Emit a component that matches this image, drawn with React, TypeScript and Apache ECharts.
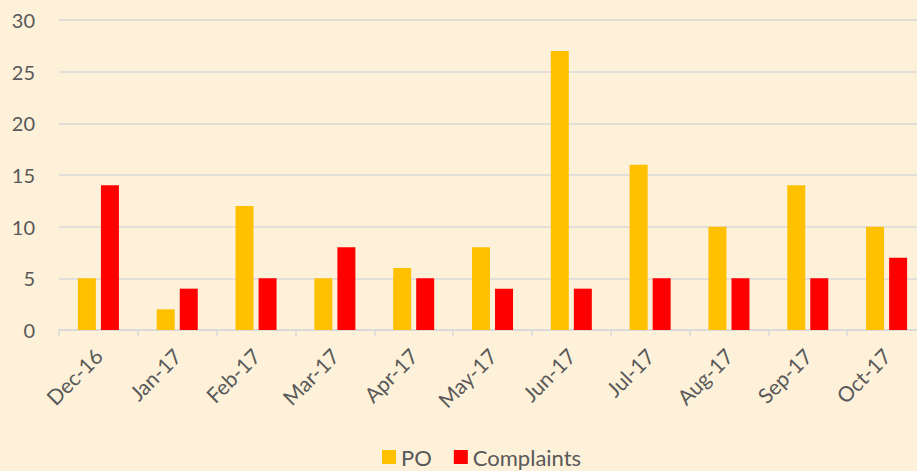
import React, { useEffect, useRef } from "react";
import * as echarts from "echarts";

const categories = ["Dec-16", "Jan-17", "Feb-17", "Mar-17", "Apr-17", "May-17", "Jun-17", "Jul-17", "Aug-17", "Sep-17", "Oct-17"];
const poValues = [5, 2, 12, 5, 6, 8, 27, 16, 10, 14, 10];
const complaintValues = [14, 4, 5, 8, 5, 4, 4, 5, 5, 5, 7];

const FONT = "Lato, 'Open Sans', sans-serif";

export default function App() {
  const ref = useRef<HTMLDivElement>(null);
  useEffect(() => {
    if (!ref.current) return;
    const chart = echarts.init(ref.current, undefined, { renderer: "svg" });
    chart.setOption({
      animation: false,
      backgroundColor: "#FDF1D9",
      textStyle: { fontFamily: FONT },
      grid: { left: 59, right: 0, top: 20, bottom: 141, containLabel: false },
      legend: {
        bottom: -2,
        left: 377,
        itemWidth: 14,
        itemHeight: 14,
        itemGap: 22,
        icon: "rect",
        textStyle: { color: "#595959", fontSize: 22, fontFamily: FONT },
        data: ["PO", "Complaints"],
      },
      xAxis: {
        type: "category",
        data: categories,
        axisLine: { lineStyle: { color: "#D9D9D9", width: 1.5 } },
        axisTick: { show: true, length: 6, lineStyle: { color: "#D9D9D9", width: 1.5 } },
        axisLabel: { rotate: 45, color: "#595959", fontSize: 21, fontFamily: FONT, margin: 22 },
      },
      yAxis: {
        type: "value",
        min: 0,
        max: 30,
        interval: 5,
        axisLine: { show: false },
        axisTick: { show: false },
        splitLine: { lineStyle: { color: "#D9D9D9", width: 1.5 } },
        axisLabel: { color: "#595959", fontSize: 20, fontFamily: FONT, margin: 24 },
      },
      series: [
        {
          name: "PO",
          type: "bar",
          data: poValues,
          barWidth: 18,
          barGap: "28%",
          itemStyle: { color: "#FFC000" },
        },
        {
          name: "Complaints",
          type: "bar",
          data: complaintValues,
          barWidth: 18,
          itemStyle: { color: "#FF0000" },
        },
      ],
    });
    return () => chart.dispose();
  }, []);
  return (
    <div style={{ position: "absolute", left: 0, top: 0, width: 917, height: 471, overflow: "hidden" }}>
      <div ref={ref} style={{ width: 926, height: 471 }} />
    </div>
  );
}
